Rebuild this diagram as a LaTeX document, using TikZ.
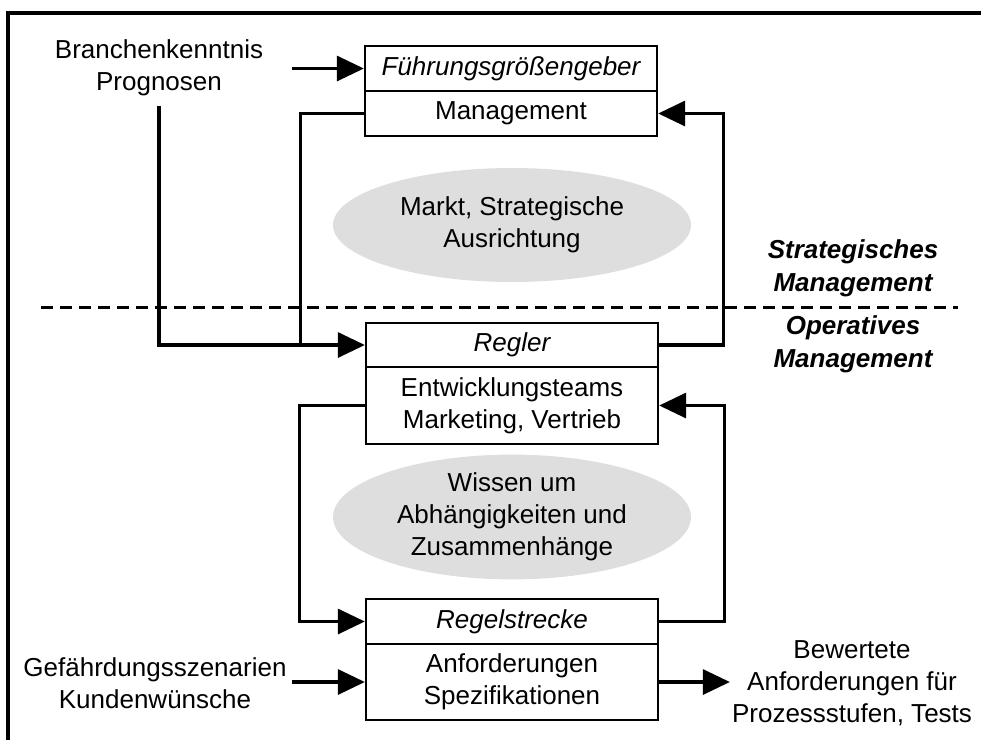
\documentclass[tikz,border=0pt]{standalone}
\usepackage{fontspec}
\setmainfont{Liberation Sans}
\usetikzlibrary{arrows.meta,shapes.geometric,calc}

\begin{document}
\begin{tikzpicture}[x=1pt,y=-1pt,
  basefont/.style={font=\fontsize{26}{32}\selectfont},
  txt/.style={basefont, align=center, inner sep=2pt},
  headbox/.style={draw, line width=2.3pt, minimum width=292pt, inner sep=0pt,
                  font=\fontsize{26}{32}\selectfont\itshape},
  bodybox/.style={draw, line width=2.3pt, minimum width=292pt, inner sep=0pt,
                  align=center, basefont},
  cloud/.style={ellipse, fill=black!13, minimum width=358pt, inner sep=0pt,
                align=center, basefont},
  levellabel/.style={align=center, inner sep=0pt,
                     font=\fontsize{26}{33}\selectfont\bfseries\itshape},
  conn/.style={line width=3.2pt},
  arr/.style={conn, -{Triangle[length=27pt,width=25pt]}},
  divider/.style={line width=3pt, dash pattern=on 12pt off 7pt},
  frame/.style={line width=3.2pt},
]
\useasboundingbox (0,0) rectangle (981,740);

% frame (top and left edges)
\draw[frame] (8,740) -- (8,13) -- (981,13);

% shaded knowledge areas
\node[cloud, minimum height=114pt] (markt) at (512,225)
  {Markt, Strategische\\Ausrichtung};
\node[cloud, minimum height=112pt] (wissen) at (512,517)
  {Wissen um\\Abhängigkeiten und\\Zusammenhänge};

% control loop elements
\node[headbox, minimum height=45pt] (fgHead) at (511,68.5) {Führungsgrößengeber};
\node[bodybox, minimum height=45pt] (fgBody) at (511,113.5) {Management};

\node[headbox, minimum height=44pt] (rHead) at (512,345) {Regler};
\node[bodybox, minimum height=77pt] (rBody) at (512,405.5)
  {Entwicklungsteams\\Marketing, Vertrieb};

\node[headbox, minimum height=45pt] (rsHead) at (512,621.5) {Regelstrecke};
\node[bodybox, minimum height=76pt] (rsBody) at (512,682)
  {Anforderungen\\Spezifikationen};

% external inputs and output
\node[txt] (inTop) at (159,68) {Branchenkenntnis\\Prognosen};
\node[txt] (inBot) at (155,683) {Gefährdungsszenarien\\Kundenwünsche};
\node[txt] (out) at (852,683) {Bewertete\\Anforderungen für\\Prozessstufen, Tests};

% level labels
\node[levellabel] (strat) at (853,268) {Strategisches\\Management};
\node[levellabel] (oper) at (853,344) {Operatives\\Management};

% boundary between strategic and operative level
\coordinate (dashL) at (41,307);
\coordinate (dashR) at (958,307);
\draw[divider] (dashL) -- (dashR);

% inputs into the loop elements
\draw[arr] ($(fgHead.west)+(-72,0)$) -- (fgHead.west);
\draw[arr] ($(inTop.south)+(0,8)$) |- (rHead.west);
\draw[arr] ($(rsBody.west)+(-73,0)$) -- (rsBody.west);
\draw[arr] (rsBody.east) -- (rsBody.east -| out.west);

% upper loop
\draw[conn] (fgBody.west) -| ($(rHead.west)+(-64,0)$);
\draw[arr] (rHead.east) -- ++(64,0) |- (fgBody.east);

% lower loop
\draw[arr] (rBody.west) -- ++(-65,0) |- (rsHead.west);
\draw[arr] (rsHead.east) -- ++(65,0) |- (rBody.east);
\end{tikzpicture}
\end{document}
